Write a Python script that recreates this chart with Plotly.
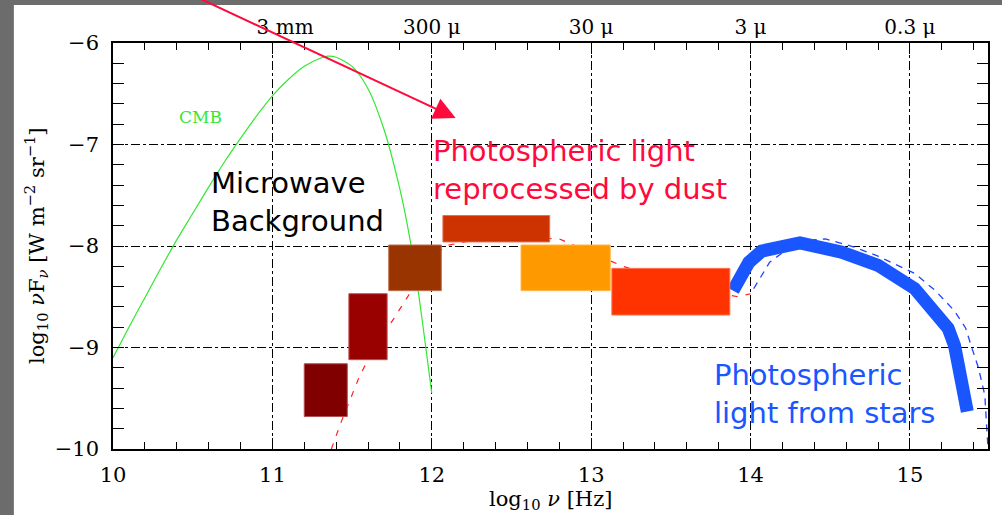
import plotly.graph_objects as go

# ---------------- data ----------------
cmb_x = [10.0, 10.1, 10.2, 10.3, 10.4, 10.5, 10.6, 10.7, 10.8, 10.9, 11.0, 11.1, 11.2,
         11.3, 11.35, 11.4, 11.5, 11.6, 11.7, 11.8, 11.85, 11.9, 11.95, 12.0]
cmb_y = [-9.10, -8.80, -8.51, -8.22, -7.94, -7.68, -7.42, -7.17, -6.94, -6.72, -6.52, -6.36,
         -6.23, -6.15, -6.13, -6.14, -6.23, -6.45, -6.85, -7.44, -7.82, -8.28, -8.85, -9.45]

dust_x = [11.37, 11.43, 11.55, 11.66, 11.76, 11.85, 11.95, 12.08, 12.4, 12.8, 13.2, 13.6, 13.92, 14.0]
dust_y = [-10.0, -9.74, -9.27, -8.95, -8.72, -8.50, -8.25, -8.00, -7.90, -7.93, -8.20, -8.40, -8.50, -8.47]

starmodel_x = [14.02, 14.12, 14.30, 14.47, 14.65, 14.80, 15.03, 15.16, 15.28, 15.35, 15.39, 15.43, 15.47, 15.48, 15.49]
starmodel_y = [-8.42, -8.16, -7.95, -7.93, -8.01, -8.10, -8.27, -8.44, -8.64, -8.81, -9.01, -9.20, -9.47, -9.70, -10.0]

stars_x = [13.89, 13.99, 14.07, 14.31, 14.57, 14.80, 15.03, 15.16, 15.24, 15.28, 15.36]
stars_y = [-8.44, -8.16, -8.05, -7.97, -8.06, -8.19, -8.42, -8.64, -8.81, -8.98, -9.63]

box_x0 = [11.20, 11.48, 11.73, 12.07, 12.56, 13.13]
box_x1 = [11.47, 11.72, 12.06, 12.74, 13.12, 13.87]
box_y0 = [-9.68, -9.12, -8.44, -7.96, -8.44, -8.68]
box_y1 = [-9.16, -8.47, -7.99, -7.70, -7.99, -8.22]
box_fill = ["#800000", "#990000", "#993300", "#cc3300", "#ff9900", "#ff3300"]
box_edge = ["#b05050", "#c05050", "#c07050", "#e07050", "#ffb850", "#ff7050"]

top_vals = [11, 12, 13, 14, 15]
top_text = ["\u00a0\u00a0\u00a0\u00a03 mm", "300 μ", "30 μ", "3 μ", "0.3 μ"]

X_RANGE = [10, 15.49]
Y_RANGE = [-10, -6]

# arrow from off the top-left into the dust label
arrow_tail = (10.296, -5.38)
arrow_tip = (12.15, -6.74)

# ---------------- figure ----------------
fig = go.Figure()

fig.add_trace(go.Scatter(x=cmb_x, y=cmb_y, mode="lines",
                         line=dict(color="#33e833", width=1.2, shape="spline", smoothing=0.8),
                         hoverinfo="skip"))
fig.add_trace(go.Scatter(x=dust_x, y=dust_y, mode="lines",
                         line=dict(color="#ff2020", width=1.2, dash="6px,8px"), hoverinfo="skip"))
fig.add_trace(go.Scatter(x=starmodel_x, y=starmodel_y, mode="lines",
                         line=dict(color="#2244ff", width=1.3, dash="7px,6px"), hoverinfo="skip"))
fig.add_trace(go.Scatter(x=stars_x, y=stars_y, mode="lines",
                         line=dict(color="#1a56ff", width=13), hoverinfo="skip"))
# invisible trace to carry the top axis
fig.add_trace(go.Scatter(x=X_RANGE, y=Y_RANGE, xaxis="x2", mode="markers",
                         marker=dict(opacity=0), hoverinfo="skip"))

shapes = []
# page background: white sheet on grey slide
shapes.append(dict(type="rect", xref="paper", yref="paper",
                   x0=-0.1133, x1=1.06, y0=-0.3, y1=1.0936,
                   fillcolor="white", line=dict(width=0), layer="below"))
for x0, x1, y0, y1, fc, ec in zip(box_x0, box_x1, box_y0, box_y1, box_fill, box_edge):
    shapes.append(dict(type="rect", xref="x", yref="y", x0=x0, x1=x1, y0=y0, y1=y1,
                       fillcolor=fc, line=dict(color=ec, width=1), layer="above"))

serif = "DejaVu Serif"
hand = "DejaVu Sans"

annotations = [
    dict(x=10.55, y=-6.73, xref="x", yref="y", text="CMB", showarrow=False,
         font=dict(family=serif, size=17, color="#33e833")),
    dict(x=10.60, y=-7.57, xref="x", yref="y", text="Microwave<br>Background",
         showarrow=False, xanchor="left", yanchor="middle", align="left",
         font=dict(family=hand, size=29, color="black")),
    dict(x=11.995, y=-7.25, xref="x", yref="y", text="Photospheric light<br>reprocessed by dust",
         showarrow=False, xanchor="left", yanchor="middle", align="left",
         font=dict(family=hand, size=29, color="#ff0a3c")),
    dict(x=13.76, y=-9.46, xref="x", yref="y", text="Photospheric<br>light from stars",
         showarrow=False, xanchor="left", yanchor="middle", align="left",
         font=dict(family=hand, size=29, color="#1a56ff")),
    dict(x=arrow_tip[0], y=arrow_tip[1], xref="x", yref="y", text="", showarrow=True,
         ax=arrow_tail[0], ay=arrow_tail[1], axref="x", ayref="y",
         arrowcolor="#ff0a3c", arrowwidth=2, arrowhead=2, arrowsize=2.2),
    dict(x=0.5, y=-0.126, xref="paper", yref="paper", xanchor="center", yanchor="middle",
         text="log<sub>10</sub> <i>ν</i> [Hz]", showarrow=False,
         font=dict(family=serif, size=21, color="black")),
    dict(x=-0.088, y=0.5, xref="paper", yref="paper", textangle=-90,
         xanchor="center", yanchor="middle",
         text="log<sub>10</sub> <i>ν</i>F<sub><i>ν</i></sub> [W m<sup>−2</sup> sr<sup>−1</sup>]",
         showarrow=False, font=dict(family=serif, size=21, color="black")),
]

axis_common = dict(
    showline=True, linecolor="black", linewidth=1.5, mirror="allticks",
    ticks="inside", ticklen=11, tickwidth=1.2, tickcolor="black",
    dtick=1, showgrid=True, gridcolor="black", gridwidth=1, griddash="dashdot",
    zeroline=False,
    minor=dict(ticks="inside", ticklen=7, tickwidth=1, tickcolor="black",
               dtick=0.2, showgrid=False),
    tickfont=dict(family=serif, size=21, color="black"),
)

fig.update_layout(
    width=1002, height=515,
    margin=dict(l=113, r=14, t=43, b=66),
    paper_bgcolor="#6c6c6c", plot_bgcolor="white",
    showlegend=False,
    shapes=shapes, annotations=annotations,
    xaxis=dict(range=X_RANGE, tick0=10, ticklabelstandoff=6, **axis_common),
    yaxis=dict(range=Y_RANGE, tick0=-10, ticklabelstandoff=8, **axis_common),
    xaxis2=dict(range=X_RANGE, overlaying="x", side="top", anchor="y",
                tickvals=top_vals, ticktext=top_text, ticks="", showline=False,
                showgrid=False, zeroline=False, ticklabelstandoff=4,
                tickfont=dict(family=serif, size=20, color="black")),
)

fig.write_html("out.html")
